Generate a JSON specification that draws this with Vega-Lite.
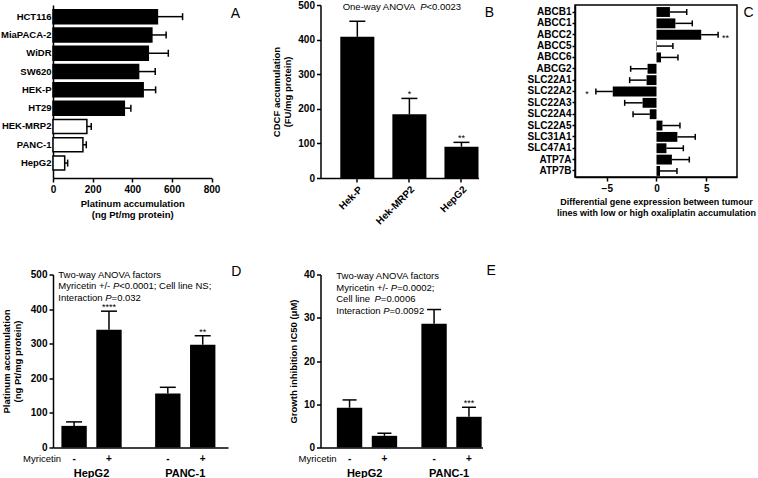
{
  "$schema": "https://vega.github.io/schema/vega-lite/v6.json",
  "background": "white",
  "padding": {"left": 0, "top": 0, "right": 0, "bottom": 0},
  "columns": 3,
  "bounds": "flush",
  "spacing": {"row": 96.5, "column": 92.5},
  "config": {
    "font": "Liberation Sans",
    "text": {"font": "Liberation Sans", "color": "black"},
    "view": {"stroke": null},
    "axis": {
      "domainColor": "black", "domainWidth": 1.5, "tickColor": "black", "tickWidth": 1.5, "tickSize": 4,
      "labelColor": "black", "labelFont": "Liberation Sans", "labelFontWeight": "bold", "labelFontSize": 10,
      "labelOverlap": false, "labelFlush": false,
      "titleColor": "black", "titleFont": "Liberation Sans", "titleFontWeight": "bold", "titleFontSize": 9.5,
      "titleLineHeight": 11, "grid": false
    }
  },
  "concat": [
    {
      "width": 158.5, "height": 173,
      "data": {"values": [
        {"line": "HCT116", "mean": 527, "err": 654, "grp": "high"},
        {"line": "MiaPACA-2", "mean": 499, "err": 571, "grp": "high"},
        {"line": "WiDR", "mean": 481, "err": 582, "grp": "high"},
        {"line": "SW620", "mean": 432, "err": 516, "grp": "high"},
        {"line": "HEK-P", "mean": 455, "err": 518, "grp": "high"},
        {"line": "HT29", "mean": 360, "err": 393, "grp": "high"},
        {"line": "HEK-MRP2", "mean": 171, "err": 193, "grp": "low"},
        {"line": "PANC-1", "mean": 151, "err": 168, "grp": "low"},
        {"line": "HepG2", "mean": 59, "err": 74, "grp": "low"}
      ]},
      "encoding": {
        "y": {"field": "line", "type": "nominal", "sort": null,
              "scale": {"paddingInner": 0.235, "paddingOuter": 0.344, "align": 0.37},
              "axis": {"title": null, "ticks": false, "tickSize": 0, "labelPadding": 2, "labelFontSize": 9.5}}
      },
      "layer": [
        {"mark": {"type": "bar", "stroke": "black", "strokeWidth": 1.5},
         "encoding": {
           "x": {"field": "mean", "type": "quantitative", "scale": {"domain": [0, 800], "nice": false},
                 "axis": {"values": [0, 200, 400, 600, 800], "labelOverlap": false, "title": ["Platinum accumulation", "(ng Pt/mg protein)"]}},
           "fill": {"field": "grp", "type": "nominal", "scale": {"domain": ["high", "low"], "range": ["black", "white"]}, "legend": null}
         }},
        {"mark": {"type": "rule", "color": "black", "strokeWidth": 1.5},
         "encoding": {"x": {"field": "mean", "type": "quantitative", "axis": {"values": [0, 200, 400, 600, 800], "labelOverlap": false, "title": ["Platinum accumulation", "(ng Pt/mg protein)"]}}, "x2": {"field": "err"}}},
        {"mark": {"type": "tick", "color": "black", "thickness": 1.5, "size": 7, "opacity": 1},
         "encoding": {"x": {"field": "err", "type": "quantitative", "axis": {"values": [0, 200, 400, 600, 800], "labelOverlap": false, "title": ["Platinum accumulation", "(ng Pt/mg protein)"]}}}},
        {"data": {"values": [{}]},
         "mark": {"type": "text", "text": "A", "align": "center", "baseline": "middle", "dx": 24, "dy": -3, "fontSize": 14, "color": "black"},
         "encoding": {"x": {"datum": 800, "axis": {"values": [0, 200, 400, 600, 800], "labelOverlap": false, "title": ["Platinum accumulation", "(ng Pt/mg protein)"]}}, "y": {"datum": "HCT116"}}}
      ]
    },
    {
      "width": 158, "height": 173,
      "data": {"values": [
        {"cell": "Hek-P", "mean": 408, "err": 453, "sig": ""},
        {"cell": "Hek-MRP2", "mean": 184, "err": 230, "sig": "*"},
        {"cell": "HepG2", "mean": 90.5, "err": 103, "sig": "**"}
      ]},
      "encoding": {
        "x": {"field": "cell", "type": "nominal", "sort": null,
              "scale": {"paddingInner": 0.346, "paddingOuter": 0.19, "align": 1},
              "axis": {"title": null, "labelAngle": -45, "labelFontSize": 10}}
      },
      "layer": [
        {"mark": {"type": "bar", "color": "black"},
         "encoding": {"y": {"field": "mean", "type": "quantitative", "scale": {"domain": [0, 500], "nice": false},
                            "axis": {"values": [0, 100, 200, 300, 400, 500], "labelOverlap": false, "title": ["CDCF accumulation", "(FU/mg protein)"], "titlePadding": 5}}}},
        {"mark": {"type": "rule", "color": "black", "strokeWidth": 1.5},
         "encoding": {"y": {"field": "mean", "type": "quantitative", "axis": {"values": [0, 100, 200, 300, 400, 500], "labelOverlap": false, "title": ["CDCF accumulation", "(FU/mg protein)"], "titlePadding": 5}}, "y2": {"field": "err"}}},
        {"mark": {"type": "tick", "color": "black", "thickness": 1.5, "size": 16, "opacity": 1},
         "encoding": {"y": {"field": "err", "type": "quantitative", "axis": {"values": [0, 100, 200, 300, 400, 500], "labelOverlap": false, "title": ["CDCF accumulation", "(FU/mg protein)"], "titlePadding": 5}}}},
        {"mark": {"type": "text", "baseline": "bottom", "dy": 1, "fontSize": 9, "color": "black"},
         "encoding": {"y": {"field": "err", "type": "quantitative", "axis": {"values": [0, 100, 200, 300, 400, 500], "labelOverlap": false, "title": ["CDCF accumulation", "(FU/mg protein)"], "titlePadding": 5}}, "text": {"field": "sig"}}},
        {"data": {"values": [{}]},
         "mark": {"type": "text", "text": "One-way ANOVA ", "align": "left", "baseline": "middle", "dx": -66.7, "dy": 2, "fontSize": 9.5, "color": "black"},
         "encoding": {"x": {"datum": "Hek-MRP2"}, "y": {"datum": 500, "axis": {"values": [0, 100, 200, 300, 400, 500], "labelOverlap": false, "title": ["CDCF accumulation", "(FU/mg protein)"], "titlePadding": 5}}}},
        {"data": {"values": [{}]},
         "mark": {"type": "text", "text": "P", "fontStyle": "italic", "align": "left", "baseline": "middle", "dx": 10.8, "dy": 2, "fontSize": 9.5, "color": "black"},
         "encoding": {"x": {"datum": "Hek-MRP2"}, "y": {"datum": 500, "axis": {"values": [0, 100, 200, 300, 400, 500], "labelOverlap": false, "title": ["CDCF accumulation", "(FU/mg protein)"], "titlePadding": 5}}}},
        {"data": {"values": [{}]},
         "mark": {"type": "text", "text": "<0.0023", "align": "left", "baseline": "middle", "dx": 17.1, "dy": 2, "fontSize": 9.5, "color": "black"},
         "encoding": {"x": {"datum": "Hek-MRP2"}, "y": {"datum": 500, "axis": {"values": [0, 100, 200, 300, 400, 500], "labelOverlap": false, "title": ["CDCF accumulation", "(FU/mg protein)"], "titlePadding": 5}}}},
        {"data": {"values": [{}]},
         "mark": {"type": "text", "text": "B", "align": "center", "baseline": "middle", "dx": 28, "dy": 8, "fontSize": 14, "color": "black"},
         "encoding": {"x": {"datum": "HepG2"}, "y": {"datum": 500, "axis": {"values": [0, 100, 200, 300, 400, 500], "labelOverlap": false, "title": ["CDCF accumulation", "(FU/mg protein)"], "titlePadding": 5}}}}
      ]
    },
    {
      "width": 162, "height": 172,
      "view": {"stroke": "black", "strokeWidth": 1.5},
      "data": {"values": [
        {"gene": "ABCB1", "mean": 1.35, "err": 3.04, "sig": ""},
        {"gene": "ABCC1", "mean": 1.9, "err": 3.6, "sig": ""},
        {"gene": "ABCC2", "mean": 4.5, "err": 6.2, "sig": "**"},
        {"gene": "ABCC5", "mean": 0.05, "err": 1.65, "sig": ""},
        {"gene": "ABCC6", "mean": 0.45, "err": 2.16, "sig": ""},
        {"gene": "ABCG2", "mean": -0.9, "err": -2.6, "sig": ""},
        {"gene": "SLC22A1", "mean": -1.0, "err": -2.7, "sig": ""},
        {"gene": "SLC22A2", "mean": -4.4, "err": -6.1, "sig": "*"},
        {"gene": "SLC22A3", "mean": -1.4, "err": -3.2, "sig": ""},
        {"gene": "SLC22A4", "mean": -0.68, "err": -2.36, "sig": ""},
        {"gene": "SLC22A5", "mean": 0.6, "err": 2.36, "sig": ""},
        {"gene": "SLC31A1", "mean": 2.1, "err": 3.9, "sig": ""},
        {"gene": "SLC47A1", "mean": 1.0, "err": 2.7, "sig": ""},
        {"gene": "ATP7A", "mean": 1.55, "err": 3.3, "sig": ""},
        {"gene": "ATP7B", "mean": 0.35, "err": 2.06, "sig": ""}
      ]},
      "encoding": {
        "y": {"field": "gene", "type": "nominal", "sort": null,
              "scale": {"paddingInner": 0.13, "paddingOuter": 0.14, "align": 0.65},
              "axis": {"title": null, "tickSize": 3, "labelPadding": 1, "labelFontSize": 10}}
      },
      "layer": [
        {"mark": {"type": "bar", "color": "black"},
         "encoding": {"x": {"field": "mean", "type": "quantitative", "scale": {"domain": [-8.2, 8.1], "nice": false, "zero": false},
                            "axis": {"values": [-5, 0, 5], "labelOverlap": false, "titleFontSize": 9, "title": ["Differential gene expression between tumour", "lines with low or high oxaliplatin accumulation"]}}}},
        {"mark": {"type": "rule", "color": "black", "strokeWidth": 1.5},
         "encoding": {"x": {"field": "mean", "type": "quantitative", "axis": {"values": [-5, 0, 5], "labelOverlap": false, "titleFontSize": 9, "title": ["Differential gene expression between tumour", "lines with low or high oxaliplatin accumulation"]}}, "x2": {"field": "err"}}},
        {"mark": {"type": "tick", "color": "black", "thickness": 1.5, "size": 6, "opacity": 1},
         "encoding": {"x": {"field": "err", "type": "quantitative", "axis": {"values": [-5, 0, 5], "labelOverlap": false, "titleFontSize": 9, "title": ["Differential gene expression between tumour", "lines with low or high oxaliplatin accumulation"]}}}},
        {"mark": {"type": "rule", "color": "black", "strokeWidth": 1.5},
         "encoding": {"x": {"datum": 0, "axis": {"values": [-5, 0, 5], "labelOverlap": false, "titleFontSize": 9, "title": ["Differential gene expression between tumour", "lines with low or high oxaliplatin accumulation"]}}}},
        {"transform": [{"filter": "datum.sig != '' && datum.mean > 0"}],
         "mark": {"type": "text", "align": "left", "baseline": "middle", "dx": 4, "dy": 3, "fontSize": 9, "color": "black"},
         "encoding": {"x": {"field": "err", "type": "quantitative", "axis": {"values": [-5, 0, 5], "labelOverlap": false, "titleFontSize": 9, "title": ["Differential gene expression between tumour", "lines with low or high oxaliplatin accumulation"]}}, "text": {"field": "sig"}}},
        {"transform": [{"filter": "datum.sig != '' && datum.mean < 0"}],
         "mark": {"type": "text", "align": "right", "baseline": "middle", "dx": -7, "dy": 3, "fontSize": 9, "color": "black"},
         "encoding": {"x": {"field": "err", "type": "quantitative", "axis": {"values": [-5, 0, 5], "labelOverlap": false, "titleFontSize": 9, "title": ["Differential gene expression between tumour", "lines with low or high oxaliplatin accumulation"]}}, "text": {"field": "sig"}}},
        {"data": {"values": [{}]},
         "mark": {"type": "text", "text": "C", "align": "center", "baseline": "middle", "dx": 11.5, "dy": 1, "fontSize": 14, "color": "black"},
         "encoding": {"x": {"datum": 8.1, "axis": {"values": [-5, 0, 5], "labelOverlap": false, "titleFontSize": 9, "title": ["Differential gene expression between tumour", "lines with low or high oxaliplatin accumulation"]}}, "y": {"datum": "ABCB1"}}}
      ]
    },
    {
      "width": 175, "height": 173,
      "data": {"values": [
        {"cell": "HepG2", "myr": "-", "mean": 62.5, "err": 74, "sig": ""},
        {"cell": "HepG2", "myr": "+", "mean": 340, "err": 394, "sig": "****"},
        {"cell": "PANC-1", "myr": "-", "mean": 156, "err": 174, "sig": ""},
        {"cell": "PANC-1", "myr": "+", "mean": 297, "err": 323, "sig": "**"}
      ]},
      "encoding": {
        "x": {"field": "cell", "type": "nominal", "sort": null,
              "scale": {"paddingInner": 0.357, "paddingOuter": 0.112, "align": 0.4},
              "axis": {"title": null, "ticks": false, "tickSize": 0, "labelAngle": 0, "labelBaseline": "top", "labelPadding": 20, "labelFontSize": 11}},
        "xOffset": {"field": "myr", "type": "nominal", "sort": ["-", "+"], "scale": {"paddingInner": 0.273, "paddingOuter": 0}}
      },
      "layer": [
        {"mark": {"type": "bar", "color": "black"},
         "encoding": {"y": {"field": "mean", "type": "quantitative", "scale": {"domain": [0, 500], "nice": false},
                            "axis": {"values": [0, 100, 200, 300, 400, 500], "labelOverlap": false, "title": ["Platinum accumulation", "(ng Pt/mg protein)"], "titlePadding": 8}}}},
        {"mark": {"type": "rule", "color": "black", "strokeWidth": 1.5},
         "encoding": {"y": {"field": "mean", "type": "quantitative", "axis": {"values": [0, 100, 200, 300, 400, 500], "labelOverlap": false, "title": ["Platinum accumulation", "(ng Pt/mg protein)"], "titlePadding": 8}}, "y2": {"field": "err"}}},
        {"mark": {"type": "tick", "color": "black", "thickness": 1.5, "size": 16, "opacity": 1},
         "encoding": {"y": {"field": "err", "type": "quantitative", "axis": {"values": [0, 100, 200, 300, 400, 500], "labelOverlap": false, "title": ["Platinum accumulation", "(ng Pt/mg protein)"], "titlePadding": 8}}}},
        {"mark": {"type": "text", "baseline": "bottom", "dy": 1, "fontSize": 9, "color": "black"},
         "encoding": {"y": {"field": "err", "type": "quantitative", "axis": {"values": [0, 100, 200, 300, 400, 500], "labelOverlap": false, "title": ["Platinum accumulation", "(ng Pt/mg protein)"], "titlePadding": 8}}, "text": {"field": "sig"}}},
        {"mark": {"type": "text", "baseline": "middle", "dy": 11, "fontSize": 10, "fontWeight": "bold", "color": "black"},
         "encoding": {"y": {"datum": 0, "axis": {"values": [0, 100, 200, 300, 400, 500], "labelOverlap": false, "title": ["Platinum accumulation", "(ng Pt/mg protein)"], "titlePadding": 8}}, "text": {"field": "myr"}}},
        {"data": {"values": [{}]},
         "mark": {"type": "text", "text": "Myricetin", "align": "right", "baseline": "middle", "dx": -13, "dy": 11, "fontSize": 9.5, "color": "black"},
         "encoding": {"x": {"datum": "HepG2"}, "xOffset": {"datum": "-"}, "y": {"datum": 0, "axis": {"values": [0, 100, 200, 300, 400, 500], "labelOverlap": false, "title": ["Platinum accumulation", "(ng Pt/mg protein)"], "titlePadding": 8}}}},
        {"data": {"values": [{}]},
         "mark": {"type": "text", "text": "Two-way ANOVA factors", "align": "left", "baseline": "top", "dx": -15.8, "dy": -4.5, "fontSize": 9.5, "color": "black"},
         "encoding": {"x": {"datum": "HepG2"}, "xOffset": {"datum": "-"}, "y": {"datum": 500, "axis": {"values": [0, 100, 200, 300, 400, 500], "labelOverlap": false, "title": ["Platinum accumulation", "(ng Pt/mg protein)"], "titlePadding": 8}}}},
        {"data": {"values": [{}]},
         "mark": {"type": "text", "text": "Myricetin +/- ", "align": "left", "baseline": "top", "dx": -15.8, "dy": 6.8, "fontSize": 9.5, "color": "black"},
         "encoding": {"x": {"datum": "HepG2"}, "xOffset": {"datum": "-"}, "y": {"datum": 500, "axis": {"values": [0, 100, 200, 300, 400, 500], "labelOverlap": false, "title": ["Platinum accumulation", "(ng Pt/mg protein)"], "titlePadding": 8}}}},
        {"data": {"values": [{}]},
         "mark": {"type": "text", "text": "P", "fontStyle": "italic", "align": "left", "baseline": "top", "dx": 38.8, "dy": 6.8, "fontSize": 9.5, "color": "black"},
         "encoding": {"x": {"datum": "HepG2"}, "xOffset": {"datum": "-"}, "y": {"datum": 500, "axis": {"values": [0, 100, 200, 300, 400, 500], "labelOverlap": false, "title": ["Platinum accumulation", "(ng Pt/mg protein)"], "titlePadding": 8}}}},
        {"data": {"values": [{}]},
         "mark": {"type": "text", "text": "<0.0001; Cell line NS;", "align": "left", "baseline": "top", "dx": 45.1, "dy": 6.8, "fontSize": 9.5, "color": "black"},
         "encoding": {"x": {"datum": "HepG2"}, "xOffset": {"datum": "-"}, "y": {"datum": 500, "axis": {"values": [0, 100, 200, 300, 400, 500], "labelOverlap": false, "title": ["Platinum accumulation", "(ng Pt/mg protein)"], "titlePadding": 8}}}},
        {"data": {"values": [{}]},
         "mark": {"type": "text", "text": "Interaction ", "align": "left", "baseline": "top", "dx": -15.8, "dy": 18.1, "fontSize": 9.5, "color": "black"},
         "encoding": {"x": {"datum": "HepG2"}, "xOffset": {"datum": "-"}, "y": {"datum": 500, "axis": {"values": [0, 100, 200, 300, 400, 500], "labelOverlap": false, "title": ["Platinum accumulation", "(ng Pt/mg protein)"], "titlePadding": 8}}}},
        {"data": {"values": [{}]},
         "mark": {"type": "text", "text": "P", "fontStyle": "italic", "align": "left", "baseline": "top", "dx": 31.2, "dy": 18.1, "fontSize": 9.5, "color": "black"},
         "encoding": {"x": {"datum": "HepG2"}, "xOffset": {"datum": "-"}, "y": {"datum": 500, "axis": {"values": [0, 100, 200, 300, 400, 500], "labelOverlap": false, "title": ["Platinum accumulation", "(ng Pt/mg protein)"], "titlePadding": 8}}}},
        {"data": {"values": [{}]},
         "mark": {"type": "text", "text": "=0.032", "align": "left", "baseline": "top", "dx": 37.5, "dy": 18.1, "fontSize": 9.5, "color": "black"},
         "encoding": {"x": {"datum": "HepG2"}, "xOffset": {"datum": "-"}, "y": {"datum": 500, "axis": {"values": [0, 100, 200, 300, 400, 500], "labelOverlap": false, "title": ["Platinum accumulation", "(ng Pt/mg protein)"], "titlePadding": 8}}}},
        {"data": {"values": [{}]},
         "mark": {"type": "text", "text": "D", "align": "center", "baseline": "middle", "dx": 33.5, "dy": -3, "fontSize": 14, "color": "black"},
         "encoding": {"x": {"datum": "PANC-1"}, "xOffset": {"datum": "+"}, "y": {"datum": 500, "axis": {"values": [0, 100, 200, 300, 400, 500], "labelOverlap": false, "title": ["Platinum accumulation", "(ng Pt/mg protein)"], "titlePadding": 8}}}}
      ]
    },
    {
      "width": 162, "height": 173,
      "data": {"values": [
        {"cell": "HepG2", "myr": "-", "mean": 9.2, "err": 11.0, "sig": ""},
        {"cell": "HepG2", "myr": "+", "mean": 2.7, "err": 3.3, "sig": ""},
        {"cell": "PANC-1", "myr": "-", "mean": 28.6, "err": 31.9, "sig": ""},
        {"cell": "PANC-1", "myr": "+", "mean": 7.1, "err": 9.3, "sig": "***"}
      ]},
      "encoding": {
        "x": {"field": "cell", "type": "nominal", "sort": null,
              "scale": {"paddingInner": 0.343, "paddingOuter": 0.13, "align": 0.745},
              "axis": {"title": null, "ticks": false, "tickSize": 0, "labelAngle": 0, "labelBaseline": "top", "labelPadding": 20, "labelFontSize": 11}},
        "xOffset": {"field": "myr", "type": "nominal", "sort": ["-", "+"], "scale": {"paddingInner": 0.266, "paddingOuter": 0}}
      },
      "layer": [
        {"mark": {"type": "bar", "color": "black"},
         "encoding": {"y": {"field": "mean", "type": "quantitative", "scale": {"domain": [0, 40], "nice": false},
                            "axis": {"values": [0, 10, 20, 30, 40], "labelOverlap": false, "title": "Growth inhibition IC50 (μM)", "titlePadding": 5}}}},
        {"mark": {"type": "rule", "color": "black", "strokeWidth": 1.5},
         "encoding": {"y": {"field": "mean", "type": "quantitative", "axis": {"values": [0, 10, 20, 30, 40], "labelOverlap": false, "title": "Growth inhibition IC50 (μM)", "titlePadding": 5}}, "y2": {"field": "err"}}},
        {"mark": {"type": "tick", "color": "black", "thickness": 1.5, "size": 14, "opacity": 1},
         "encoding": {"y": {"field": "err", "type": "quantitative", "axis": {"values": [0, 10, 20, 30, 40], "labelOverlap": false, "title": "Growth inhibition IC50 (μM)", "titlePadding": 5}}}},
        {"mark": {"type": "text", "baseline": "bottom", "dy": 1, "fontSize": 9, "color": "black"},
         "encoding": {"y": {"field": "err", "type": "quantitative", "axis": {"values": [0, 10, 20, 30, 40], "labelOverlap": false, "title": "Growth inhibition IC50 (μM)", "titlePadding": 5}}, "text": {"field": "sig"}}},
        {"mark": {"type": "text", "baseline": "middle", "dy": 11, "fontSize": 10, "fontWeight": "bold", "color": "black"},
         "encoding": {"y": {"datum": 0, "axis": {"values": [0, 10, 20, 30, 40], "labelOverlap": false, "title": "Growth inhibition IC50 (μM)", "titlePadding": 5}}, "text": {"field": "myr"}}},
        {"data": {"values": [{}]},
         "mark": {"type": "text", "text": "Myricetin", "align": "right", "baseline": "middle", "dx": -13, "dy": 11, "fontSize": 9.5, "color": "black"},
         "encoding": {"x": {"datum": "HepG2"}, "xOffset": {"datum": "-"}, "y": {"datum": 0, "axis": {"values": [0, 10, 20, 30, 40], "labelOverlap": false, "title": "Growth inhibition IC50 (μM)", "titlePadding": 5}}}},
        {"data": {"values": [{}]},
         "mark": {"type": "text", "text": "Two-way ANOVA factors", "align": "left", "baseline": "top", "dx": -13.3, "dy": -3.5, "fontSize": 9.5, "color": "black"},
         "encoding": {"x": {"datum": "HepG2"}, "xOffset": {"datum": "-"}, "y": {"datum": 40, "axis": {"values": [0, 10, 20, 30, 40], "labelOverlap": false, "title": "Growth inhibition IC50 (μM)", "titlePadding": 5}}}},
        {"data": {"values": [{}]},
         "mark": {"type": "text", "text": "Myricetin +/- ", "align": "left", "baseline": "top", "dx": -13.3, "dy": 8.2, "fontSize": 9.5, "color": "black"},
         "encoding": {"x": {"datum": "HepG2"}, "xOffset": {"datum": "-"}, "y": {"datum": 40, "axis": {"values": [0, 10, 20, 30, 40], "labelOverlap": false, "title": "Growth inhibition IC50 (μM)", "titlePadding": 5}}}},
        {"data": {"values": [{}]},
         "mark": {"type": "text", "text": "P", "fontStyle": "italic", "align": "left", "baseline": "top", "dx": 41.3, "dy": 8.2, "fontSize": 9.5, "color": "black"},
         "encoding": {"x": {"datum": "HepG2"}, "xOffset": {"datum": "-"}, "y": {"datum": 40, "axis": {"values": [0, 10, 20, 30, 40], "labelOverlap": false, "title": "Growth inhibition IC50 (μM)", "titlePadding": 5}}}},
        {"data": {"values": [{}]},
         "mark": {"type": "text", "text": "=0.0002;", "align": "left", "baseline": "top", "dx": 47.6, "dy": 8.2, "fontSize": 9.5, "color": "black"},
         "encoding": {"x": {"datum": "HepG2"}, "xOffset": {"datum": "-"}, "y": {"datum": 40, "axis": {"values": [0, 10, 20, 30, 40], "labelOverlap": false, "title": "Growth inhibition IC50 (μM)", "titlePadding": 5}}}},
        {"data": {"values": [{}]},
         "mark": {"type": "text", "text": "Cell line ", "align": "left", "baseline": "top", "dx": -13.3, "dy": 19.9, "fontSize": 9.5, "color": "black"},
         "encoding": {"x": {"datum": "HepG2"}, "xOffset": {"datum": "-"}, "y": {"datum": 40, "axis": {"values": [0, 10, 20, 30, 40], "labelOverlap": false, "title": "Growth inhibition IC50 (μM)", "titlePadding": 5}}}},
        {"data": {"values": [{}]},
         "mark": {"type": "text", "text": "P", "fontStyle": "italic", "align": "left", "baseline": "top", "dx": 25.0, "dy": 19.9, "fontSize": 9.5, "color": "black"},
         "encoding": {"x": {"datum": "HepG2"}, "xOffset": {"datum": "-"}, "y": {"datum": 40, "axis": {"values": [0, 10, 20, 30, 40], "labelOverlap": false, "title": "Growth inhibition IC50 (μM)", "titlePadding": 5}}}},
        {"data": {"values": [{}]},
         "mark": {"type": "text", "text": "=0.0006", "align": "left", "baseline": "top", "dx": 31.3, "dy": 19.9, "fontSize": 9.5, "color": "black"},
         "encoding": {"x": {"datum": "HepG2"}, "xOffset": {"datum": "-"}, "y": {"datum": 40, "axis": {"values": [0, 10, 20, 30, 40], "labelOverlap": false, "title": "Growth inhibition IC50 (μM)", "titlePadding": 5}}}},
        {"data": {"values": [{}]},
         "mark": {"type": "text", "text": "Interaction ", "align": "left", "baseline": "top", "dx": -13.3, "dy": 31.6, "fontSize": 9.5, "color": "black"},
         "encoding": {"x": {"datum": "HepG2"}, "xOffset": {"datum": "-"}, "y": {"datum": 40, "axis": {"values": [0, 10, 20, 30, 40], "labelOverlap": false, "title": "Growth inhibition IC50 (μM)", "titlePadding": 5}}}},
        {"data": {"values": [{}]},
         "mark": {"type": "text", "text": "P", "fontStyle": "italic", "align": "left", "baseline": "top", "dx": 33.7, "dy": 31.6, "fontSize": 9.5, "color": "black"},
         "encoding": {"x": {"datum": "HepG2"}, "xOffset": {"datum": "-"}, "y": {"datum": 40, "axis": {"values": [0, 10, 20, 30, 40], "labelOverlap": false, "title": "Growth inhibition IC50 (μM)", "titlePadding": 5}}}},
        {"data": {"values": [{}]},
         "mark": {"type": "text", "text": "=0.0092", "align": "left", "baseline": "top", "dx": 40.0, "dy": 31.6, "fontSize": 9.5, "color": "black"},
         "encoding": {"x": {"datum": "HepG2"}, "xOffset": {"datum": "-"}, "y": {"datum": 40, "axis": {"values": [0, 10, 20, 30, 40], "labelOverlap": false, "title": "Growth inhibition IC50 (μM)", "titlePadding": 5}}}},
        {"data": {"values": [{}]},
         "mark": {"type": "text", "text": "E", "align": "center", "baseline": "middle", "dx": 22.3, "dy": -4, "fontSize": 14, "color": "black"},
         "encoding": {"x": {"datum": "PANC-1"}, "xOffset": {"datum": "+"}, "y": {"datum": 40, "axis": {"values": [0, 10, 20, 30, 40], "labelOverlap": false, "title": "Growth inhibition IC50 (μM)", "titlePadding": 5}}}}
      ]
    }
  ]
}
